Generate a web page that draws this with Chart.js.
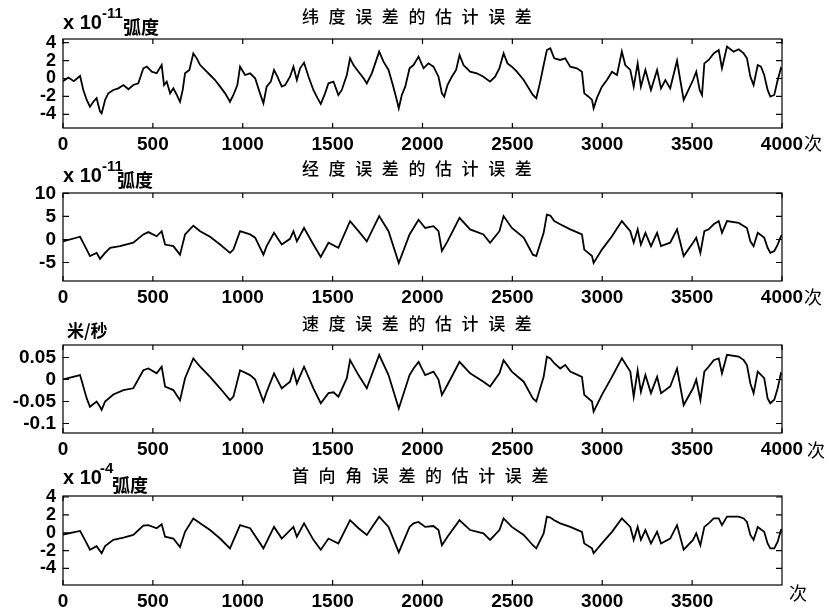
<!DOCTYPE html>
<html><head><meta charset="utf-8">
<script src="https://cdn.jsdelivr.net/npm/chart.js@4.4.1/dist/chart.umd.min.js"></script>
<style>
html,body{margin:0;padding:0;background:#fff;}
#wrap{position:relative;width:832px;height:615px;overflow:hidden;background:#fff}
canvas{position:absolute;left:0}
.t{position:absolute;white-space:nowrap;color:#000;line-height:1}
.title{font-family:"Noto Sans CJK SC";font-size:17px;letter-spacing:9.6px;font-weight:500}
.num{font-family:"Liberation Sans",Arial,sans-serif;font-weight:bold}
.cj{font-family:"Noto Sans CJK SC";font-weight:bold}
.ci{font-family:"Noto Sans CJK SC";font-size:18px}
</style></head><body>
<div id="wrap">
<canvas id="c1" width="832" height="160" style="top:0px"></canvas>
<canvas id="c2" width="832" height="160" style="top:155px"></canvas>
<canvas id="c3" width="832" height="155" style="top:310px"></canvas>
<canvas id="c4" width="832" height="153" style="top:462px"></canvas>

<div class="t title" style="left:302px;top:7px">纬度误差的估计误差</div>
<div class="t title" style="left:302px;top:159px">经度误差的估计误差</div>
<div class="t title" style="left:302px;top:314px">速度误差的估计误差</div>
<div class="t title" style="left:292px;top:466px">首向角误差的估计误差</div>

<div class="t num" style="left:63px;top:12px;font-size:20px">x 10</div>
<div class="t num" style="left:102px;top:5px;font-size:15px">-11</div>
<div class="t cj" style="left:123px;top:17px;font-size:18px">弧度</div>

<div class="t num" style="left:63px;top:165px;font-size:20px">x 10</div>
<div class="t num" style="left:102px;top:158px;font-size:15px">-11</div>
<div class="t cj" style="left:117px;top:170px;font-size:18px">弧度</div>

<div class="t cj" style="left:67px;top:321px;font-size:17px">米/秒</div>

<div class="t num" style="left:63px;top:467px;font-size:20px">x 10</div>
<div class="t num" style="left:100px;top:460px;font-size:15px">-4</div>
<div class="t cj" style="left:112px;top:475px;font-size:18px">弧度</div>

<div class="t ci" style="left:804px;top:133px">次</div>
<div class="t ci" style="left:804px;top:287px">次</div>
<div class="t ci" style="left:807px;top:440px">次</div>
<div class="t ci" style="left:789px;top:583px">次</div>
</div>
<script>
// ---- data (sample index, value) ----
const latN=[0,30,60,95,113,132,150,169,187,206,215,234,252,280,308,336,364,391,419,447,466,494,521,549,562,577,596,614,633,651,666,679,703,725,744,763,790,818,846,874,902,929,948,970,985,1013,1041,1069,1096,1115,1133,1156,1174,1193,1217,1236,1263,1282,1301,1319,1341,1366,1393,1416,1434,1458,1477,1505,1532,1551,1579,1597,1616,1644,1672,1690,1718,1737,1759,1783,1811,1835,1857,1868,1885,1904,1928,1950,1978,2006,2033,2061,2089,2108,2121,2139,2163,2187,2206,2228,2265,2302,2339,2376,2404,2428,2451,2473,2497,2525,2563,2591,2614,2633,2655,2674,2692,2711,2733,2766,2794,2822,2859,2887,2900,2924,2943,2952,2970,2998,3026,3054,3082,3109,3128,3156,3175,3197,3215,3240,3271,3305,3327,3351,3378,3416,3434,3453,3475,3505,3523,3542,3555,3568,3592,3620,3648,3666,3694,3731,3759,3787,3805,3824,3842,3865,3883,3901,3920,3935,3957,3976,3994,4000];
const latV=[-0.3,0.1,-0.3,0.28,-1.28,-2.4,-3.15,-2.6,-2.2,-3.7,-3.9,-2.4,-1.66,-1.28,-1.1,-0.73,-1.2,-0.73,-0.54,1.14,1.32,0.76,0.58,1.5,-0.73,-0.35,-1.66,-1.1,-1.84,-2.6,-1.28,0.58,0.95,2.8,2.25,1.5,0.95,0.39,-0.17,-0.91,-1.66,-2.6,-1.84,-0.73,1.32,0.39,0.58,0.02,-1.66,-2.77,-0.91,-0.35,0.95,0.2,-0.91,-0.73,0.2,1.32,-0.17,1.14,1.77,0.2,-1.28,-2.2,-2.85,-1.66,-0.54,-0.35,-1.84,-1.28,0.39,2.25,1.5,0.76,0.02,-0.54,0.58,1.69,3.0,1.88,0.95,-0.73,-2.4,-3.33,-1.84,-0.91,1.14,1.5,2.44,1.14,1.69,1.32,0.2,-1.66,-2.03,-0.73,0.2,0.95,2.63,1.5,0.76,0.58,0.2,-0.35,0.2,1.14,2.8,1.69,1.32,0.76,-0.17,-1.1,-1.84,-2.2,-0.35,1.5,3.18,3.37,2.25,2.07,2.25,1.32,1.14,0.76,-1.66,-2.03,-2.4,-3.33,-2.2,-0.91,-0.17,0.76,0.39,3.0,1.5,0.95,-0.91,1.69,-0.91,0.95,-1.28,0.95,-1.1,-0.17,-1.1,1.99,-0.17,-2.4,-1.47,-0.17,0.76,-1.28,-1.84,1.69,2.07,2.8,3.18,1.14,3.56,3.0,3.26,2.8,2.25,0.2,-0.73,1.5,1.32,0.39,-1.28,-2.03,-1.84,-0.17,1.14,0.95];

const lonN=[0,95,132,150,187,206,234,262,317,391,447,475,521,549,568,614,651,679,725,763,818,874,929,948,985,1041,1069,1115,1133,1174,1217,1263,1282,1301,1341,1393,1434,1477,1532,1597,1644,1690,1759,1811,1868,1928,1950,1978,2015,2061,2089,2108,2139,2206,2265,2339,2376,2428,2451,2497,2563,2614,2633,2674,2692,2711,2733,2766,2822,2887,2900,2943,2952,2998,3054,3109,3156,3175,3197,3215,3240,3271,3305,3327,3378,3416,3453,3505,3523,3546,3568,3592,3620,3648,3666,3694,3759,3805,3824,3842,3865,3901,3920,3935,3957,3976,3994,4000];
const lonV=[-0.4,0.6,-2.2,-3.6,-2.9,-4.2,-2.9,-1.8,-1.45,-0.7,1.1,1.6,0.7,1.8,-1.1,-1.45,-3.3,1.1,3.0,1.8,0.6,-1.1,-2.9,-2.2,1.8,1.1,0.4,-3.3,-1.45,1.45,-1.1,0.15,1.8,-0.4,2.5,-1.1,-3.8,-0.7,-1.8,4.0,1.8,-0.4,5.1,1.8,-5.1,1.1,2.5,4.3,2.5,2.9,1.8,-2.5,-0.4,4.7,2.2,1.1,-0.7,1.8,5.1,2.5,0.4,-3.3,-3.6,1.45,5.4,5.2,4.0,3.3,2.2,1.1,-2.2,-3.6,-5.1,-2.2,0.7,4.0,1.8,-0.7,2.2,-1.1,1.45,-1.45,1.45,-1.45,-0.7,2.2,-3.6,-0.7,0.4,-2.9,1.8,2.2,3.3,4.0,1.45,4.0,3.6,2.5,-0.4,-1.45,1.45,0.4,-1.8,-2.9,-2.5,-1.1,0.7,0.9];

const velN=[0,95,132,150,187,206,215,234,280,336,391,447,475,521,549,568,614,651,679,725,763,818,874,929,948,985,1041,1069,1115,1133,1174,1217,1263,1282,1301,1341,1393,1434,1477,1505,1532,1579,1597,1644,1690,1759,1811,1868,1928,1950,1978,2015,2061,2089,2108,2139,2206,2265,2339,2376,2428,2451,2497,2563,2614,2633,2674,2692,2711,2733,2766,2794,2822,2887,2900,2943,2952,2998,3054,3109,3156,3175,3197,3215,3240,3271,3305,3327,3378,3416,3453,3505,3523,3546,3568,3592,3620,3648,3666,3694,3759,3787,3805,3824,3842,3865,3901,3920,3935,3957,3976,3994,4000];
const velV=[0,0.01,-0.043,-0.062,-0.05,-0.062,-0.069,-0.05,-0.034,-0.024,-0.02,0.021,0.025,0.014,0.029,-0.016,-0.024,-0.047,0.003,0.048,0.029,0.006,-0.02,-0.047,-0.039,0.021,0.01,0,-0.05,-0.028,0.014,-0.02,-0.005,0.021,-0.009,0.029,-0.02,-0.054,-0.031,-0.029,-0.039,0.003,0.044,0.01,-0.02,0.056,0.01,-0.066,0.01,0.025,0.04,0.01,0.018,0,-0.035,-0.012,0.04,0.014,-0.005,-0.016,0.014,0.044,0.018,-0.005,-0.043,-0.05,0.006,0.052,0.048,0.037,0.025,0.033,0.018,0.006,-0.035,-0.05,-0.073,-0.035,0.006,0.048,0.018,-0.039,0.021,-0.028,0.01,-0.031,0.006,-0.031,-0.016,0.025,-0.058,-0.02,0,-0.047,0.018,0.029,0.044,0.048,0.014,0.056,0.052,0.044,0.033,-0.009,-0.031,0.018,0.003,-0.043,-0.054,-0.046,-0.02,0.014,0.012];

const hdgN=[0,95,132,150,187,215,234,280,336,391,447,475,521,549,568,614,651,679,725,763,818,874,929,985,1041,1115,1174,1217,1282,1301,1341,1393,1434,1477,1532,1597,1644,1690,1759,1811,1868,1928,1950,1978,2015,2061,2089,2108,2139,2206,2265,2339,2376,2428,2451,2497,2563,2614,2633,2674,2692,2711,2733,2766,2822,2887,2900,2943,2952,2998,3054,3109,3156,3175,3197,3215,3240,3271,3305,3327,3378,3416,3453,3505,3523,3546,3568,3592,3620,3648,3666,3694,3759,3787,3805,3824,3842,3865,3901,3920,3935,3957,3976,3994,4000];
const hdgV=[-0.2,0.2,-1.2,-1.9,-1.5,-2.3,-1.5,-0.8,-0.55,-0.25,0.8,0.85,0.5,0.95,-0.45,-0.65,-1.6,0.1,1.6,1.05,0.3,-0.65,-1.75,0.85,0.5,-1.75,0.65,-0.65,0.65,-0.45,1.05,-0.8,-1.9,-0.65,-1.2,1.4,0.5,-0.25,1.8,0.65,-2.2,0.65,1.05,1.2,0.65,0.75,0.3,-1.4,-0.45,1.4,0.3,-0.07,-0.8,0.3,1.6,0.65,-0.25,-1.4,-1.75,-0.07,1.8,1.7,1.4,1.05,0.65,0.1,-1.2,-1.75,-2.3,-1.2,0.1,1.6,0.65,-0.8,0.65,-0.8,0.3,-1.2,0.1,-1.2,-0.65,0.85,-1.9,-0.8,-0.07,-1.4,0.65,1.05,1.6,1.6,0.85,1.8,1.8,1.6,1.2,-0.25,-0.8,0.65,0.1,-1.2,-1.75,-1.75,-1.0,0.3,0.4];

// ---- tick labels ----
const xTicksFull=[0,500,1000,1500,2000,2500,3000,3500,4000];
const xTicksShort=[0,500,1000,1500,2000,2500,3000,3500];
const latTicks=[-4,-2,0,2,4];
const lonTicks=[-5,0,5,10];
const velTicks=[-0.1,-0.05,0,0.05];
const hdgTicks=[-4,-2,0,2,4];

const boxPlugin={
  id:'box',
  afterDraw(chart){
    const ctx=chart.ctx, a=chart.chartArea, xs=chart.scales.x, ys=chart.scales.y;
    ctx.save();
    ctx.strokeStyle='#000';ctx.lineWidth=1.2;
    ctx.strokeRect(a.left,a.top,a.right-a.left,a.bottom-a.top);
    ctx.beginPath();
    xs.ticks.forEach(t=>{const p=xs.getPixelForValue(t.value);
      ctx.moveTo(p,a.bottom);ctx.lineTo(p,a.bottom-5);
      ctx.moveTo(p,a.top);ctx.lineTo(p,a.top+5);});
    ys.ticks.forEach(t=>{const p=ys.getPixelForValue(t.value);
      ctx.moveTo(a.left,p);ctx.lineTo(a.left+6,p);
      ctx.moveTo(a.right,p);ctx.lineTo(a.right-6,p);});
    ctx.stroke();
    ctx.restore();
  }
};

function makeChart(id,N,V,yMin,yMax,yTicks,xTicks,padTop,xH,ySize){
  return new Chart(document.getElementById(id),{
    type:'line',
    data:{datasets:[{data:N.map((n,i)=>({x:n,y:V[i]})),borderColor:'#000',borderWidth:1.8,pointRadius:0,tension:0,fill:false,borderJoinStyle:'miter'}]},
    options:{
      responsive:false,animation:false,devicePixelRatio:1,
      layout:{padding:{top:padTop,right:50,left:0,bottom:0}},
      plugins:{legend:{display:false},tooltip:{enabled:false},title:{display:false}},
      scales:{
        x:{type:'linear',min:0,max:4000,
          afterBuildTicks(s){s.ticks=xTicks.map(v=>({value:v}));},
          afterFit(s){s.height=xH;},
          grid:{display:false,drawTicks:false},border:{display:false},
          ticks:{autoSkip:false,maxRotation:0,padding:5,color:'#000',
            font:{family:'"Liberation Sans", Arial, sans-serif',size:19,weight:'bold'},
            callback:v=>String(v)}},
        y:{type:'linear',min:yMin,max:yMax,
          afterBuildTicks(s){s.ticks=yTicks.map(v=>({value:v}));},
          afterFit(s){s.width=63;},
          grid:{display:false,drawTicks:false},border:{display:false},
          ticks:{autoSkip:false,padding:7,color:'#000',
            font:{family:'"Liberation Sans", Arial, sans-serif',size:ySize,weight:'bold'},
            callback:v=>String(v)}}
      }
    },
    plugins:[boxPlugin]
  });
}

makeChart('c1',latN,latV,-5.53,4.41,latTicks,xTicksFull,39,32,18);
makeChart('c2',lonN,lonV,-9.02,10.1,lonTicks,xTicksFull,38,34,19);
makeChart('c3',velN,velV,-0.1216,0.0784,velTicks,xTicksFull,35,32,19);
makeChart('c4',hdgN,hdgV,-5.85,4.11,hdgTicks,xTicksShort,34,30,18);
</script>
</body></html>
